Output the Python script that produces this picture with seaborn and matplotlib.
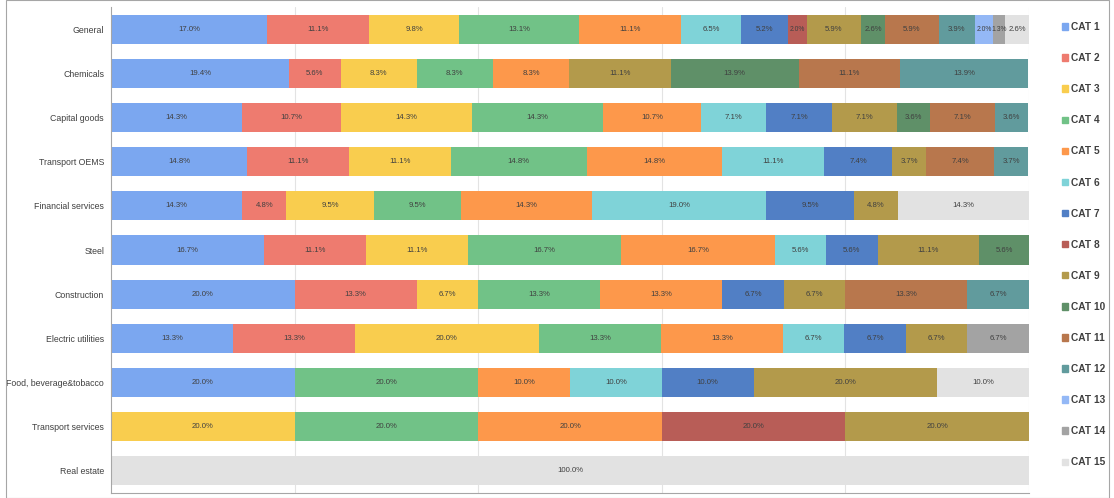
import numpy as np
import pandas as pd
import matplotlib
matplotlib.use("Agg")
import matplotlib.pyplot as plt
import matplotlib.patches as mpatches
import seaborn as sns

sectors = ["General", "Chemicals", "Capital goods", "Transport OEMS", "Financial services",
           "Steel", "Construction", "Electric utilities", "Food, beverage&tobacco",
           "Transport services", "Real estate"]
categories = [f"CAT {i}" for i in range(1, 16)]

# values per category (one entry per sector, same order as `sectors`)
cat1  = [17.0, 19.4, 14.3, 14.8, 14.3, 16.7, 20.0, 13.3, 20.0, 0, 0]
cat2  = [11.1, 5.6, 10.7, 11.1, 4.8, 11.1, 13.3, 13.3, 0, 0, 0]
cat3  = [9.8, 8.3, 14.3, 11.1, 9.5, 11.1, 6.7, 20.0, 0, 20.0, 0]
cat4  = [13.1, 8.3, 14.3, 14.8, 9.5, 16.7, 13.3, 13.3, 20.0, 20.0, 0]
cat5  = [11.1, 8.3, 10.7, 14.8, 14.3, 16.7, 13.3, 13.3, 10.0, 20.0, 0]
cat6  = [6.5, 0, 7.1, 11.1, 19.0, 5.6, 0, 6.7, 10.0, 0, 0]
cat7  = [5.2, 0, 7.1, 7.4, 9.5, 5.6, 6.7, 6.7, 10.0, 0, 0]
cat8  = [2.0, 0, 0, 0, 0, 0, 0, 0, 0, 20.0, 0]
cat9  = [5.9, 11.1, 7.1, 3.7, 4.8, 11.1, 6.7, 6.7, 20.0, 20.0, 0]
cat10 = [2.6, 13.9, 3.6, 0, 0, 5.6, 0, 0, 0, 0, 0]
cat11 = [5.9, 11.1, 7.1, 7.4, 0, 0, 13.3, 0, 0, 0, 0]
cat12 = [3.9, 13.9, 3.6, 3.7, 0, 0, 6.7, 0, 0, 0, 0]
cat13 = [2.0, 0, 0, 0, 0, 0, 0, 0, 0, 0, 0]
cat14 = [1.3, 0, 0, 0, 0, 0, 0, 6.7, 0, 0, 0]
cat15 = [2.6, 0, 0, 0, 14.3, 0, 0, 0, 10.0, 0, 100.0]

series = [cat1, cat2, cat3, cat4, cat5, cat6, cat7, cat8, cat9, cat10,
          cat11, cat12, cat13, cat14, cat15]

colors = ["#7BA7F0", "#EE7B6F", "#F9CD4E", "#71C287", "#FD984B", "#7FD3D8", "#517FC5",
          "#B85D57", "#B39A4B", "#5F9068", "#B8774D", "#619B9D", "#94B8F6", "#A3A3A3",
          "#E2E2E2"]

sns.set_theme(style="white")
plt.rcParams["font.family"] = ["Liberation Sans Narrow", "Liberation Sans", "DejaVu Sans"]

fig = plt.figure(figsize=(11.14, 4.98), dpi=100)
ax = fig.add_axes([111/1114, 1 - 493/498, (1029-111)/1114, 486/498])

left = np.zeros(len(sectors))
for cat, vals, col in zip(categories, series, colors):
    vals = np.array(vals, dtype=float)
    df = pd.DataFrame({"sector": sectors, "value": vals})
    sns.barplot(data=df, x="value", y="sector", order=sectors, orient="h",
                color=col, saturation=1, width=0.66, left=left, ax=ax,
                linewidth=0, errorbar=None)
    cont = ax.containers[-1]
    labels = [f"{v:.1f}%" if v > 0 else "" for v in vals]
    texts = ax.bar_label(cont, labels=labels, label_type="center", fontsize=5.6,
                         color="#404040")
    for t, v in zip(texts, vals):
        if 0 < v < 2.5:
            t.set_fontsize(4.9)
    left = left + vals

ax.set_xlim(0, 100)
ax.set_ylim(len(sectors) - 0.5, -0.5)
ax.set_xticks([20, 40, 60, 80, 100])
ax.set_xticklabels([])
ax.tick_params(axis="x", length=0)
ax.tick_params(axis="y", length=0, labelsize=6.3, labelcolor="#404040", pad=5)
ax.grid(axis="x", color="#E3E3E3", linewidth=0.8)
ax.set_axisbelow(True)
ax.set_xlabel("")
ax.set_ylabel("")
for s in ["top", "right"]:
    ax.spines[s].set_visible(False)
ax.spines["left"].set_color("#A6A6A6")
ax.spines["bottom"].set_color("#A6A6A6")
ax.spines["left"].set_linewidth(0.8)
ax.spines["bottom"].set_linewidth(0.8)

handles = [mpatches.Patch(color=c, label=l) for c, l in zip(colors, categories)]
leg = fig.legend(handles=handles, loc="upper left", bbox_to_anchor=(1057/1114, 1 - 17/498),
                 frameon=False, fontsize=7.3, handlelength=0.55, handleheight=0.6,
                 handletextpad=0.35, labelspacing=2.08, borderpad=0)
for t in leg.get_texts():
    t.set_color("#404040")
    t.set_fontweight("bold")

fig.patches.append(mpatches.Rectangle((6/1114, 0.5/498), 1103/1114, 497/498,
                                      transform=fig.transFigure, fill=False,
                                      edgecolor="#A6A6A6", linewidth=0.8))

fig.savefig("out.png", dpi=100)
